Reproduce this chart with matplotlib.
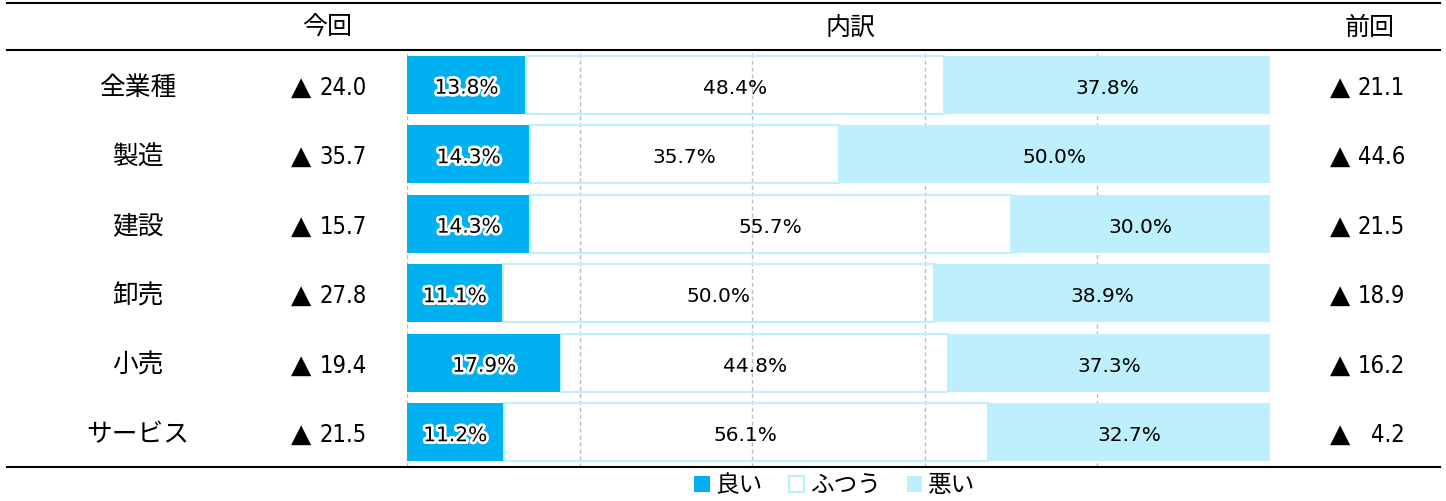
import numpy as np
import matplotlib
matplotlib.use('Agg')
import matplotlib.pyplot as plt
import matplotlib.transforms as mtransforms
import matplotlib.patheffects as pe
from matplotlib.lines import Line2D

plt.rcParams['font.family'] = ['Noto Sans CJK JP', 'DejaVu Sans']

industries = ['全業種', '製造', '建設', '卸売', '小売', 'サービス']
good = [13.8, 14.3, 14.3, 11.1, 17.9, 11.2]
normal = [48.4, 35.7, 55.7, 50.0, 44.8, 56.1]
bad = [37.8, 50.0, 30.0, 38.9, 37.3, 32.7]
di_now = [-24.0, -35.7, -15.7, -27.8, -19.4, -21.5]
di_prev = [-21.1, -44.6, -21.5, -18.9, -16.2, -4.2]
series_names = ['良い', 'ふつう', '悪い']
headers = ['今回', '内訳', '前回']

c_good = '#00b0f0'
c_bad = '#bdeffd'

fig = plt.figure(figsize=(14.46, 5.01), dpi=100)
ax = fig.add_axes([407/1446, 34/501, 863/1446, 417/501])

y = np.arange(len(industries))
good = np.array(good)
normal = np.array(normal)
bad = np.array(bad)

b1 = ax.barh(y, good, height=0.83, color=c_good, label=series_names[0], zorder=2)
b2 = ax.barh(y, normal, left=good, height=0.83, facecolor='none', edgecolor=c_bad,
             linewidth=1.5, label=series_names[1], zorder=2)
b3 = ax.barh(y, bad, left=good + normal, height=0.83, color=c_bad, label=series_names[2], zorder=2)

num_font = ['DejaVu Sans']
lbls = []
for bars, vals in [(b1, good), (b2, normal), (b3, bad)]:
    lbls.append(ax.bar_label(bars, labels=['%.1f%%' % v for v in vals], label_type='center',
                             fontsize=14.5, family=num_font))
for group in lbls:
    for t in group:
        t.xyann = (0, -2.5)
for t in lbls[0]:
    t.set_path_effects([pe.withStroke(linewidth=4, foreground='white')])

ax.set_xlim(0, 100)
ax.set_ylim(len(industries) - 0.5, -0.5)
ax.set_xticks([0, 20, 40, 60, 80, 100])
ax.grid(axis='x', color='#bdbdbd', linestyle=(0, (3, 2)), linewidth=1, zorder=0)
ax.tick_params(length=0, labelbottom=False, labelleft=False)
for s in ax.spines.values():
    s.set_visible(False)

# table lines
for yy in [1 - 3/501, 1 - 50/501, 34/501]:
    fig.add_artist(Line2D([7/1446, 1440/1446], [yy, yy], color='black', linewidth=1.5,
                          transform=fig.transFigure))

# headers
for name, xx in zip(headers, [327, 850, 1370]):
    fig.text(xx/1446, 1 - 28/501, name, ha='center', va='center', fontsize=18)

trans = mtransforms.blended_transform_factory(fig.transFigure, ax.transData)
down = mtransforms.ScaledTranslation(0, -3/100, fig.dpi_scale_trans)
trans = trans + down
for i, name in enumerate(industries):
    ax.text(138/1446, i, name, transform=trans, ha='center', va='center', fontsize=18.5)
    # 今回
    ax.text(301/1446, i, '▲', transform=trans, ha='center', va='center', fontsize=19,
            family=['DejaVu Sans'])
    ax.text(367/1446, i, '%.1f' % abs(di_now[i]), transform=trans, ha='right', va='center',
            fontsize=17, family=['DejaVu Sans'], fontstretch='condensed')
    # 前回
    ax.text(1340/1446, i, '▲', transform=trans, ha='center', va='center', fontsize=19,
            family=['DejaVu Sans'])
    ax.text(1405/1446, i, '%.1f' % abs(di_prev[i]), transform=trans, ha='right', va='center',
            fontsize=17, family=['DejaVu Sans'], fontstretch='condensed')

fig.legend(handles=[b1, b2, b3], loc='center', bbox_to_anchor=(835/1446, 15/501), ncol=3,
           frameon=False, fontsize=17, handlelength=0.65, handleheight=0.65,
           handletextpad=0.25, columnspacing=1.1, borderpad=0)

fig.savefig('out.png', dpi=100)
